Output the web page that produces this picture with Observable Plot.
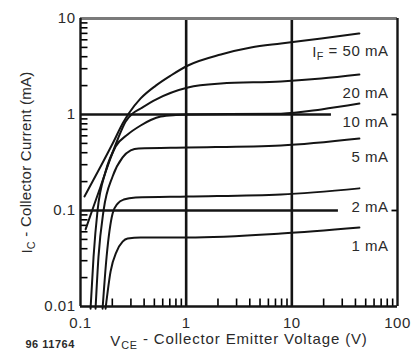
<!DOCTYPE html>
<html><head><meta charset="utf-8">
<script src="https://cdn.jsdelivr.net/npm/d3@7"></script>
<script src="https://cdn.jsdelivr.net/npm/@observablehq/plot@0.6"></script>
<style>body{margin:0;background:#fff}svg{display:block}svg text{letter-spacing:0.5px}</style>
</head><body><div id="chart"></div>
<script>
// ---- data ----
const seriesNames = ["50 mA", "20 mA", "10 mA", "5 mA", "2 mA", "1 mA"];
// [VCE (V), IC (mA)]
const curve50mA = [[0.109,0.14],[0.155,0.287],[0.206,0.523],[0.2504,0.806],[0.286,1.024],[0.371,1.47],[0.516,2.0],[0.716,2.55],[1.04,3.24],[2.13,4.22],[4.1,4.98],[7.9,5.49],[19,6.19],[43.6,6.98]];
const curve20mA = [[0.1117,0.0636],[0.1329,0.11],[0.155,0.178],[0.1845,0.309],[0.2247,0.549],[0.2676,0.846],[0.3117,1.024],[0.371,1.155],[0.516,1.43],[1.04,1.91],[2.13,2.1],[7.9,2.21],[19,2.37],[43.6,2.61]];
const curve10mA = [[0.1245,0.0095],[0.1329,0.033],[0.145,0.1],[0.1727,0.255],[0.215,0.464],[0.2794,0.619],[0.371,0.768],[0.462,0.876],[0.575,0.953],[0.798,0.988],[1.04,1.0],[7.9,1.02],[19,1.13],[43.6,1.3]];
const curve5mA  = [[0.1388,0.0095],[0.148,0.033],[0.1653,0.1],[0.2013,0.226],[0.2504,0.357],[0.2984,0.422],[0.355,0.443],[1.04,0.453],[7.9,0.476],[43.6,0.562]];
const curve2mA  = [[0.1618,0.0095],[0.1766,0.033],[0.2013,0.093],[0.2247,0.118],[0.2562,0.13],[0.333,0.1365],[1.04,0.14],[7.9,0.147],[43.6,0.17]];
const curve1mA  = [[0.1727,0.0095],[0.1927,0.0232],[0.2197,0.0374],[0.2504,0.0474],[0.2794,0.0511],[0.371,0.0524],[1.04,0.0524],[7.9,0.0576],[43.6,0.0665]];
const curves = [curve50mA, curve20mA, curve10mA, curve5mA, curve2mA, curve1mA];

const xDomain = [0.1, 100];
const yDomain = [0.01, 10];
const xTicks = [0.1, 1, 10, 100];
const xTickLabels = ["0.1", "1", "10", "100"];
const yTicks = [0.01, 0.1, 1, 10];
const yTickLabels = ["0.01", "0.1", "1", "10"];
const xMinor = [0.2,0.3,0.4,0.5,0.6,0.7,0.8,0.9,2,3,4,5,6,7,8,9,20,30,40,50,60,70,80,90];
const yMinor = [0.02,0.03,0.04,0.05,0.06,0.07,0.08,0.09,0.2,0.3,0.4,0.5,0.6,0.7,0.8,0.9,2,3,4,5,6,7,8,9];
const vGrid = [1, 10];
const hGrid = [1, 0.1];
const hGridEnd = [23.7, 27.6];
const xTitleParts = ["V", "CE", " - Collector Emitter Voltage (V)"];
const yTitleParts = ["I", "C", " - Collector Current (mA)"];
const labelPrefixParts = ["I", "F", " = "];
const figNote = "96 11764";

// ---- build table ----
const rows = curves.flatMap((c, k) => c.map(([v, i]) => ({s: seriesNames[k], v, i})));
const labelText = s => s === seriesNames[0] ? labelPrefixParts.join("") + s : s;
const xTitle = xTitleParts.join(""), yTitle = yTitleParts.join("");

// short tick glyphs (pixel lengths), placed at data positions by the dot mark
const seg = (dx, dy) => ({draw(ctx) { ctx.moveTo(0, 0); ctx.lineTo(dx, dy); }});
const tickUp = seg(0, -8), tickRight = seg(7, 0), tickLeft = seg(-6, 0);

const ink = "#141414";
const fs = 15;
const svg = Plot.plot({
  width: 413, height: 360,
  marginLeft: 80, marginRight: 16, marginTop: 18, marginBottom: 54,
  style: {fontFamily: "'Liberation Sans', Arial, sans-serif", fontSize: fs + "px", color: "#2a2a2a", background: "#fff"},
  x: {type: "log", domain: xDomain},
  y: {type: "log", domain: yDomain},
  marks: [
    // major grid
    Plot.ruleX(vGrid, {stroke: ink, strokeWidth: 2.6}),
    Plot.ruleY(hGrid, {x1: xDomain[0], x2: (d, k) => hGridEnd[k], stroke: ink, strokeWidth: 2.4}),
    // minor ticks (inward) and right-side ticks
    Plot.dot(xMinor, {x: d => d, y: yDomain[0], symbol: tickUp, fill: "none", stroke: "black", strokeWidth: 1.6}),
    Plot.dot(yMinor, {x: xDomain[0], y: d => d, symbol: tickRight, fill: "none", stroke: "black", strokeWidth: 1.6}),
    Plot.dot(hGrid, {x: xDomain[1], y: d => d, symbol: tickLeft, fill: "none", stroke: "black", strokeWidth: 1.8}),
    // frame
    Plot.ruleY([yDomain[1]], {stroke: "#7a7a7a", strokeWidth: 3.2}),
    Plot.ruleX(xDomain, {stroke: ink, strokeWidth: 2.4}),
    Plot.ruleY([yDomain[0]], {stroke: ink, strokeWidth: 2.4}),
    // curves
    Plot.line(rows, {x: "v", y: "i", z: "s", curve: "monotone-x", stroke: ink, strokeWidth: 2}),
    Plot.text(rows, Plot.selectLast({x: "v", y: "i", z: "s", text: d => labelText(d.s), dx: 29, dy: 19, textAnchor: "end", fontSize: fs})),
    // axes
    Plot.axisX(xTicks, {tickSize: 0, tickPadding: 11, tickFormat: d => xTickLabels[xTicks.indexOf(d)], label: null, fontSize: fs}),
    Plot.axisY(yTicks, {tickSize: 0, tickPadding: 5, tickFormat: d => yTickLabels[yTicks.indexOf(d)], label: null, fontSize: fs}),
    Plot.text([xTitle], {frameAnchor: "bottom", textAnchor: "middle", dy: 39, fontSize: fs}),
    Plot.text([yTitle], {frameAnchor: "left", textAnchor: "middle", dx: -53, rotate: -90, fontSize: fs}),
    Plot.text([figNote], {frameAnchor: "bottom-left", textAnchor: "start", dx: -55, dy: 41, fontSize: 11, fontWeight: "bold"})
  ]
});

function subscript(full, parts, spacing) {
  d3.select(svg).selectAll("text").filter(function () { return this.textContent === full; }).each(function () {
    const t = d3.select(this);
    t.text(null);
    if (spacing != null) t.style("letter-spacing", spacing);
    t.append("tspan").text(parts[0]);
    t.append("tspan").attr("font-size", "0.72em").attr("dy", "0.28em").text(parts[1]);
    t.append("tspan").attr("dy", "-0.28em").text(parts[2]);
  });
}
subscript(xTitle, xTitleParts, "0.85px");
subscript(yTitle, yTitleParts, "0.25px");
subscript(labelText(seriesNames[0]), [labelPrefixParts[0], labelPrefixParts[1], labelPrefixParts[2] + seriesNames[0]]);

document.getElementById("chart").appendChild(svg);
</script>
</body></html>
